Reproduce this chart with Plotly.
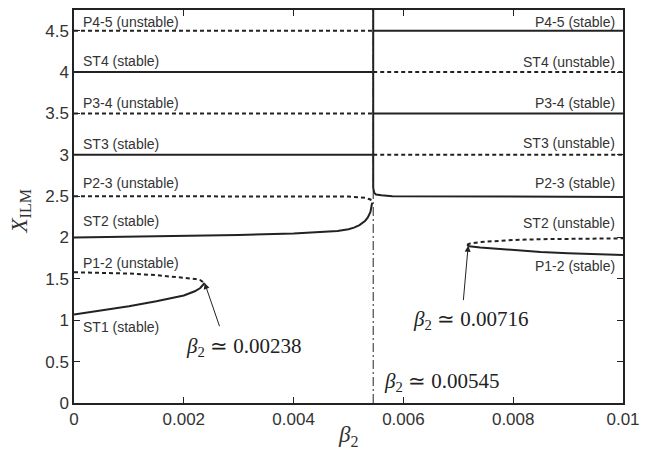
import plotly.graph_objects as go

# ---------------- data ----------------
beta_split = 0.00545          # asymptote of the P2-3 / ST2 branches
x_range = [0.0, 0.01]
y_range = [0.0, 4.75]

left_x = [0.0, 0.00545]
right_x = [0.00545, 0.01]

# horizontal families (value of X_ILM)
st3_level = [3.0, 3.0]
p34_level = [3.5, 3.5]
st4_level = [4.0, 4.0]
p45_level = [4.5, 4.5]

# ST1 (stable) and P1-2 (unstable), left fold at beta2 ~ 0.00238
st1_x = [0.0, 0.0005, 0.001, 0.0015, 0.002, 0.0022, 0.0023, 0.00238]
st1_y = [1.07, 1.12, 1.17, 1.23, 1.30, 1.35, 1.39, 1.45]
p12u_x = [0.0, 0.0005, 0.001, 0.0015, 0.002, 0.0022, 0.0023, 0.00238]
p12u_y = [1.58, 1.575, 1.565, 1.545, 1.515, 1.50, 1.485, 1.45]

# ST2 (stable) left branch
st2_x = [0.0, 0.001, 0.002, 0.003, 0.004, 0.0045, 0.0048, 0.005, 0.0051, 0.0052,
         0.0053, 0.00535, 0.0054, 0.00543]
st2_y = [2.00, 2.008, 2.017, 2.03, 2.05, 2.065, 2.08, 2.10, 2.12, 2.15,
         2.20, 2.24, 2.31, 2.42]

# P2-3 (unstable) left branch
p23u_x = [0.0, 0.004, 0.005, 0.0053, 0.0054, 0.00543]
p23u_y = [2.5, 2.5, 2.495, 2.48, 2.46, 2.43]

# P2-3 (stable) right branch (comes down along the asymptote)
p23s_x = [0.00545, 0.00545, 0.00547, 0.0055, 0.0056, 0.0058, 0.01]
p23s_y = [4.75, 2.60, 2.54, 2.52, 2.51, 2.50, 2.49]

# right fold at beta2 ~ 0.00716
fold2_x = [0.00716, 0.0072, 0.0074, 0.0077, 0.008, 0.0085, 0.009, 0.0095, 0.01]
st2u_y = [1.91, 1.925, 1.945, 1.96, 1.97, 1.98, 1.985, 1.99, 1.99]
p12s_y = [1.91, 1.895, 1.88, 1.865, 1.85, 1.825, 1.81, 1.80, 1.79]

x_ticks = [0, 0.002, 0.004, 0.006, 0.008, 0.01]
x_tick_text = ["0", "0.002", "0.004", "0.006", "0.008", "0.01"]
y_ticks = [0, 0.5, 1, 1.5, 2, 2.5, 3, 3.5, 4, 4.5]
y_tick_text = ["0", "0.5", "1", "1.5", "2", "2.5", "3", "3.5", "4", "4.5"]

left_labels = ["P4-5 (unstable)", "ST4 (stable)", "P3-4 (unstable)", "ST3 (stable)",
               "P2-3 (unstable)", "ST2 (stable)", "P1-2 (unstable)", "ST1 (stable)"]
left_label_y = [4.61, 4.13, 3.62, 3.13, 2.66, 2.20, 1.69, 0.915]
right_labels = ["P4-5 (stable)", "ST4 (unstable)", "P3-4 (stable)", "ST3 (unstable)",
                "P2-3 (stable)", "ST2 (unstable)", "P1-2 (stable)"]
right_label_y = [4.61, 4.12, 3.63, 3.14, 2.66, 2.17, 1.65]

# ---------------- figure ----------------
LC = "#222222"
SOLID = dict(color=LC, width=2)
DASH = dict(color=LC, width=2, dash="4px,3px")

fig = go.Figure()

def add(x, y, line):
    fig.add_trace(go.Scatter(x=x, y=y, mode="lines", line=line,
                             showlegend=False, hoverinfo="skip"))

# dash-dot asymptote
add([beta_split, beta_split], y_range, dict(color=LC, width=1, dash="9px,3px,2px,3px"))

# left side
add(left_x, st3_level, SOLID)
add(left_x, st4_level, SOLID)
add(left_x, p34_level, DASH)
add(left_x, p45_level, DASH)
# right side
add(right_x, st3_level, DASH)
add(right_x, st4_level, DASH)
add(right_x, p34_level, SOLID)
add(right_x, p45_level, SOLID)

add(st1_x, st1_y, SOLID)
add(p12u_x, p12u_y, DASH)
add(st2_x, st2_y, SOLID)
add(p23u_x, p23u_y, DASH)
add(p23s_x, p23s_y, SOLID)
add(fold2_x, st2u_y, DASH)
add(fold2_x, p12s_y, SOLID)

label_font = dict(family="Liberation Sans, Arial, sans-serif", size=14, color="#333333")
for t, yv in zip(left_labels, left_label_y):
    fig.add_annotation(x=0.00013, y=yv, text=t, showarrow=False, xanchor="left",
                       yanchor="middle", font=label_font)
for t, yv in zip(right_labels, right_label_y):
    fig.add_annotation(x=0.00989, y=yv, text=t, showarrow=False, xanchor="right",
                       yanchor="middle", font=label_font)

serif = dict(family="Liberation Serif, Times New Roman, serif", size=21, color="#222222")
# fold annotations
fig.add_annotation(x=0.00238, y=1.45, ax=0.00266, ay=0.91, axref="x", ayref="y",
                   text="", showarrow=True, arrowhead=2, arrowsize=1.2, arrowwidth=1,
                   arrowcolor=LC)
fig.add_annotation(x=0.0031, y=0.68, text="<i>β</i><sub>2</sub> ≃ 0.00238",
                   showarrow=False, font=serif)
fig.add_annotation(x=0.00718, y=1.90, ax=0.00709, ay=1.225, axref="x", ayref="y",
                   text="", showarrow=True, arrowhead=2, arrowsize=1.2, arrowwidth=1,
                   arrowcolor=LC)
fig.add_annotation(x=0.00723, y=1.0, text="<i>β</i><sub>2</sub> ≃ 0.00716",
                   showarrow=False, font=serif)
fig.add_annotation(x=0.0067, y=0.25, text="<i>β</i><sub>2</sub> ≃ 0.00545",
                   showarrow=False, font=serif)

# axis titles
title_font = dict(family="Liberation Serif, Times New Roman, serif", size=23, color="#333333")
fig.add_annotation(xref="paper", yref="paper", x=0.5, y=0, yshift=-33,
                   text="<i>β</i><sub>2</sub>", showarrow=False, font=title_font,
                   xanchor="center", yanchor="middle", borderpad=0)
fig.add_annotation(xref="paper", yref="paper", x=0, y=0.5, xshift=-54, yshift=-5,
                   text="<i>X</i><sub>ILM</sub>", showarrow=False, font=title_font,
                   textangle=-90, xanchor="center", yanchor="middle", borderpad=0)

tick_font = dict(family="Liberation Sans, Arial, sans-serif", size=17, color="#333333")
axis_common = dict(showgrid=False, zeroline=False, showline=True, linecolor=LC,
                   linewidth=1.5, mirror="ticks", ticks="inside", ticklen=6,
                   tickwidth=1, tickcolor=LC, tickfont=tick_font, automargin=False)

fig.update_xaxes(range=x_range, tickvals=x_ticks, ticktext=x_tick_text, **axis_common)
fig.update_yaxes(range=y_range, tickvals=y_ticks, ticktext=y_tick_text, **axis_common)

# the page body adds an 8px offset, so the figure is 8px smaller on each axis
fig.update_layout(width=640, height=442, margin=dict(l=66, r=25, t=2, b=47),
                  plot_bgcolor="white", paper_bgcolor="white")

fig.write_html("out.html")
